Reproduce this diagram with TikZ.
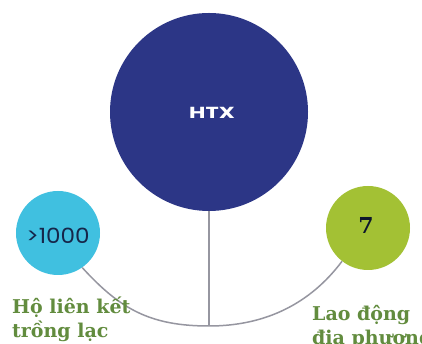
\documentclass[tikz,border=0pt]{standalone}
\usepackage{fontspec}
\newfontfamily\numfont[FakeStretch=1.1]{Poppins}
\newfontfamily\htxfont[FakeStretch=1.4]{Poppins}
\newfontfamily\labelfont{DejaVu Serif}
\definecolor{navyfill}{RGB}{44,54,134}
\definecolor{cyanfill}{RGB}{64,192,224}
\definecolor{limefill}{RGB}{163,193,52}
\definecolor{labelgreen}{RGB}{98,140,62}
\definecolor{linkgray}{RGB}{150,150,160}
\definecolor{numdark}{RGB}{22,38,74}
\tikzset{
  bubble/.style={circle, draw=none, inner sep=0pt},
  link/.style={draw=linkgray, line width=1.5pt},
  caption/.style={anchor=base west, align=left, inner sep=0pt, text=labelgreen,
    font=\labelfont\bfseries\fontsize{19}{24}\selectfont}
}
\begin{document}
\begin{tikzpicture}[x=1pt,y=1pt]
  \useasboundingbox (0,0) rectangle (422,344);
  \clip (0,0) rectangle (422,344);
  \fill[white] (0,0) rectangle (422,344);

  % circles
  \node[bubble, fill=navyfill, minimum size=198pt] (htx) at (209,232) {};
  \node[bubble, fill=cyanfill, minimum size=84pt] (ho) at (58,111) {};
  \node[bubble, fill=limefill, minimum size=84pt] (ld) at (368,116) {};

  % connectors
  \coordinate (bottom) at (209,18);
  \draw[link] (htx.south) -- (bottom);
  \draw[link] (ho.-55) .. controls (120,35) and (150,18) .. (bottom)
                       .. controls (265,18) and (310,40) .. (ld.-128);

  % texts in circles
  \node[text=white, font=\htxfont\bfseries\fontsize{16}{18}\selectfont] (htxt) at (212,231.5) {HTX};
  \node[text=numdark, font=\numfont\fontsize{21}{24}\selectfont] (hot) at (58,108.5) {>1000};
  \node[text=numdark!60!black, font=\labelfont\bfseries\fontsize{22}{24}\selectfont] (ldt) at (366,119) {7};

  % captions (anchored on the baseline of the last line)
  \node[caption] (hocap) at (12,6) {Hộ liên kết\\trồng lạc};
  \node[caption] (ldcap) at (312,-1) {Lao động\\địa phương};
\end{tikzpicture}
\end{document}
